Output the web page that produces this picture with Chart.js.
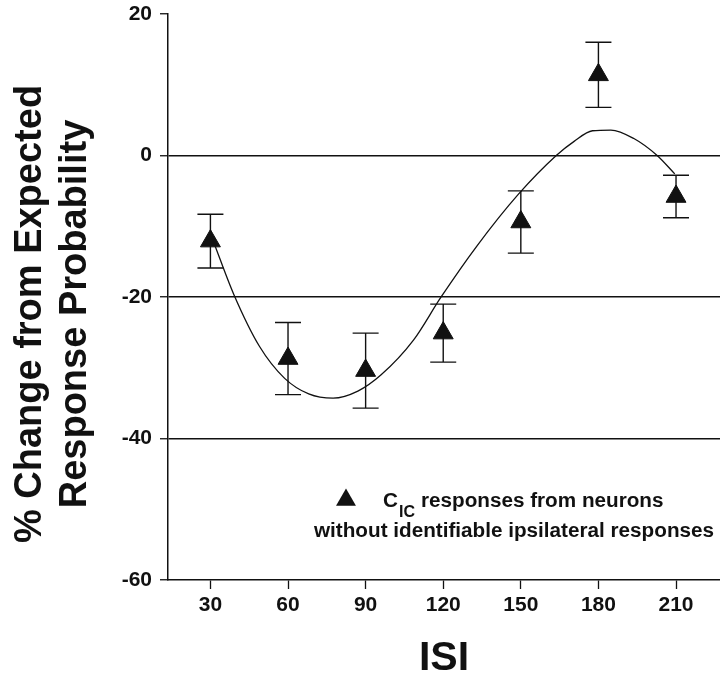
<!DOCTYPE html>
<html>
<head>
<meta charset="utf-8">
<script src="https://cdn.jsdelivr.net/npm/chart.js@4.4.1/dist/chart.umd.min.js"></script>
<style>
  body { margin: 0; background: #fff; }
  #wrap { width: 720px; height: 677px; }
</style>
</head>
<body>
<div id="wrap"><canvas id="isi-chart" width="720" height="677"></canvas></div>
<script>
// measured points (mean +/- error) per ISI
var isi = [30, 60, 90, 120, 150, 180, 210];
var change = [-12.1, -28.7, -30.4, -25.1, -9.4, 11.4, -5.8];
var err = [3.8, 5.1, 5.3, 4.1, 4.4, 4.6, 3.0];

// fitted curve as it is drawn in the figure
var fitX = [31, 39, 49, 58.7, 68, 77.4, 87, 96, 108.5, 119, 133, 149, 163.7, 170.6, 177.7, 184.8, 193.7, 202.7, 209.5];
var fitY = [-12, -19.6, -27, -31.5, -33.7, -34.3, -33.3, -31, -26.1, -20.1, -12.8, -5.5, 0, 2.0, 3.5, 3.6, 2.4, 0, -2.6];

var yTicks = [20, 0, -20, -40, -60];
var gridAt = [0, -20, -40];

var INK = '#111';
var FONT = '"Liberation Sans", Arial, Helvetica, sans-serif';

var errorBars = {
    id: 'errorBars',
    beforeDatasetsDraw: function (chart) {
        var ctx = chart.ctx;
        var xs = chart.scales.x, ys = chart.scales.y;
        ctx.save();
        ctx.strokeStyle = INK;
        ctx.lineWidth = 1.4;
        isi.forEach(function (v, i) {
            var px = xs.getPixelForValue(v);
            var top = ys.getPixelForValue(change[i] + err[i]);
            var bot = ys.getPixelForValue(change[i] - err[i]);
            ctx.beginPath();
            ctx.moveTo(px, top); ctx.lineTo(px, bot);
            ctx.moveTo(px - 13, top); ctx.lineTo(px + 13, top);
            ctx.moveTo(px - 13, bot); ctx.lineTo(px + 13, bot);
            ctx.stroke();
        });
        ctx.restore();
    }
};

// y title and in-plot legend
var annotations = {
    id: 'annotations',
    afterDraw: function (chart) {
        var ctx = chart.ctx;
        var a = chart.chartArea;
        ctx.save();
        ctx.fillStyle = INK;

        // y axis title, two rotated lines
        ctx.font = 'bold 38px ' + FONT;
        ctx.textAlign = 'center';
        ctx.textBaseline = 'middle';
        ctx.translate(31, 314);
        ctx.rotate(-Math.PI / 2);
        ctx.fillText('% Change from Expected', 0, 0);
        ctx.fillText('Response Probability', 0, 45);
        ctx.setTransform(1, 0, 0, 1, 0, 0);

        // legend symbol
        var tx = a.left + 178, ty = a.top + 486, r = 11.5;
        ctx.beginPath();
        ctx.moveTo(tx, ty - r);
        ctx.lineTo(tx + r * Math.sin(2 * Math.PI / 3), ty - r * Math.cos(2 * Math.PI / 3));
        ctx.lineTo(tx + r * Math.sin(4 * Math.PI / 3), ty - r * Math.cos(4 * Math.PI / 3));
        ctx.closePath();
        ctx.fill();

        // legend text
        ctx.textAlign = 'left';
        ctx.textBaseline = 'alphabetic';
        var x0 = a.left + 215, base1 = a.top + 493;
        ctx.font = 'bold 20.7px ' + FONT;
        ctx.fillText('C', x0, base1);
        var x1 = x0 + ctx.measureText('C').width + 1;
        ctx.font = 'bold 16px ' + FONT;
        ctx.fillText('IC', x1, base1 + 10);
        var x2 = x1 + ctx.measureText('IC').width + 6;
        ctx.font = 'bold 20.7px ' + FONT;
        ctx.fillText('responses from neurons', x2, base1);
        ctx.fillText('without identifiable ipsilateral responses', a.left + 146, base1 + 30);
        ctx.restore();
    }
};

var ctx = document.getElementById('isi-chart').getContext('2d');
var chart = new Chart(ctx, {
    type: 'scatter',
    data: {
        datasets: [{
            label: 'fit',
            data: fitX.map(function (x, i) { return { x: x, y: fitY[i] }; }),
            showLine: true,
            borderColor: INK,
            borderWidth: 1.3,
            pointRadius: 0,
            cubicInterpolationMode: 'monotone',
            fill: false
        }, {
            label: 'CIC responses from neurons without identifiable ipsilateral responses',
            data: isi.map(function (x, i) { return { x: x, y: change[i] }; }),
            pointStyle: 'triangle',
            pointRadius: 11.5,
            pointBackgroundColor: INK,
            pointBorderColor: INK,
            pointBorderWidth: 1
        }]
    },
    options: {
        responsive: false,
        animation: false,
        layout: { autoPadding: false, padding: { top: 14, right: 0, bottom: 0, left: 0 } },
        plugins: {
            legend: { display: false },
            tooltip: { enabled: false },
            title: { display: false }
        },
        scales: {
            x: {
                type: 'linear',
                min: 13.6,
                max: 227,
                afterBuildTicks: function (scale) {
                    scale.ticks = isi.map(function (v) { return { value: v }; });
                },
                afterFit: function (scale) {
                    scale.height = 97;
                    scale.paddingLeft = 0;
                    scale.paddingRight = 0;
                },
                border: { display: true, color: INK, width: 1.5 },
                grid: { drawOnChartArea: false, drawTicks: true, tickLength: 9, tickColor: INK, tickWidth: 1.3 },
                ticks: {
                    color: INK,
                    padding: 4,
                    maxRotation: 0,
                    font: { family: FONT, size: 21, weight: 'bold' }
                },
                title: {
                    display: true,
                    text: 'ISI',
                    color: INK,
                    padding: { top: 0, bottom: 0 },
                    font: { family: FONT, size: 41, weight: 'bold', lineHeight: 0.9 }
                }
            },
            y: {
                min: -60,
                max: 20,
                afterBuildTicks: function (scale) {
                    scale.ticks = yTicks.map(function (v) { return { value: v }; });
                },
                afterFit: function (scale) {
                    scale.width = 168;
                    scale.paddingTop = 0;
                    scale.paddingBottom = 0;
                },
                border: { display: true, color: INK, width: 1.5 },
                grid: {
                    color: function (c) {
                        return gridAt.indexOf(c.tick && c.tick.value) >= 0 ? INK : 'rgba(0,0,0,0)';
                    },
                    lineWidth: 1.5,
                    drawTicks: true,
                    tickLength: 8,
                    tickColor: INK,
                    tickWidth: 1.3
                },
                ticks: {
                    color: INK,
                    padding: 8,
                    font: { family: FONT, size: 21, weight: 'bold' }
                },
                title: { display: false }
            }
        }
    },
    plugins: [errorBars, annotations]
});
</script>
</body>
</html>
